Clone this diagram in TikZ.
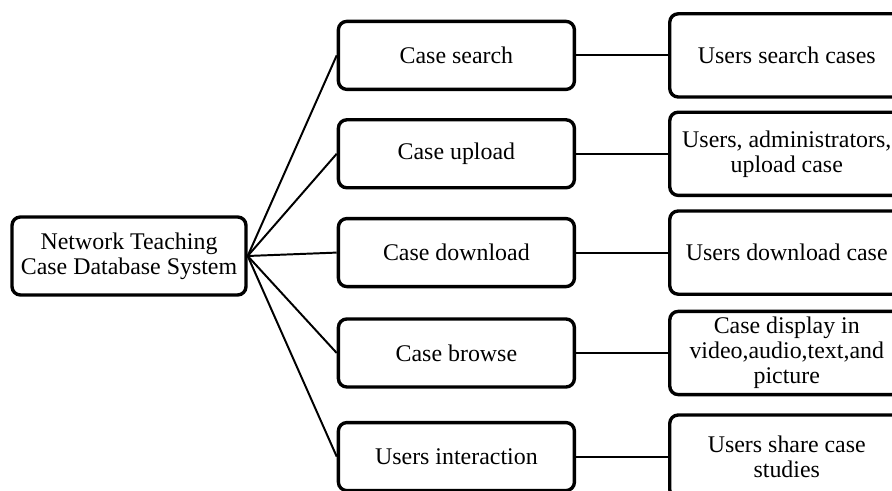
\documentclass[tikz,border=0pt]{standalone}
\usepackage{fontspec}
\setmainfont{Liberation Serif}
\usetikzlibrary{positioning}

\begin{document}
\begin{tikzpicture}[
  every node/.style={font=\fontsize{17pt}{17.8pt}\selectfont, align=center},
  box/.style={draw=black, line width=2.4pt, rounded corners=6pt, fill=white, inner sep=2pt},
  rootbox/.style={box, minimum width=5.85cm, minimum height=1.95cm},
  funcbox/.style={box, minimum width=5.9cm, minimum height=1.7cm},
  descbox/.style={box, minimum width=5.85cm, minimum height=2.08cm},
  link/.style={line width=1.4pt},
]

% Page frame
\useasboundingbox (0,0) rectangle (22.3,12.275);

% Root
\node[rootbox] (root) at (3.225,5.875) {Network Teaching\\Case Database System};

% Functions
\node[funcbox] (search)   at (11.41,10.89) {Case search};
\node[funcbox] (upload)   at (11.41,8.43)  {Case upload};
\node[funcbox] (download) at (11.41,5.96)  {Case download};
\node[funcbox] (browse)   at (11.41,3.45)  {Case browse};
\node[funcbox] (interact) at (11.41,0.86)  {Users interaction};

% Descriptions
\node[descbox, right=2.3cm of search]   (dsearch)   {Users search cases};
\node[descbox, right=2.3cm of upload]   (dupload)   {Users, administrators,\\upload case};
\node[descbox, right=2.3cm of download] (ddownload) {Users download case};
\node[descbox, right=2.3cm of browse]   (dbrowse)   {Case display in\\video,audio,text,and\\picture};
\node[descbox, right=2.3cm of interact] (dinteract) {Users share case\\studies};

% Connectors
\draw[link] (root.east) -- (search.west);
\draw[link] (root.east) -- (upload.west);
\draw[link] (root.east) -- (download.west);
\draw[link] (root.east) -- (browse.west);
\draw[link] (root.east) -- (interact.west);

\draw[link] (search.east)   -- (dsearch.west);
\draw[link] (upload.east)   -- (dupload.west);
\draw[link] (download.east) -- (ddownload.west);
\draw[link] (browse.east)   -- (dbrowse.west);
\draw[link] (interact.east) -- (dinteract.west);

\end{tikzpicture}
\end{document}
